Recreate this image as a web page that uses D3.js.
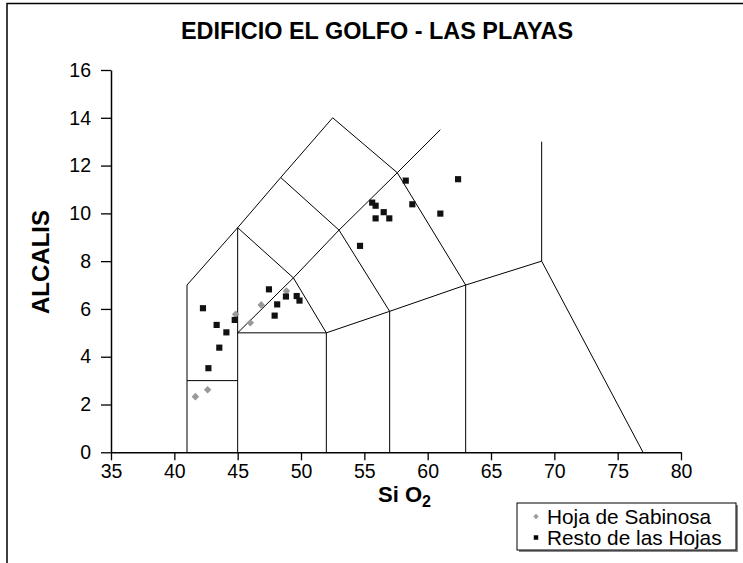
<!DOCTYPE html>
<html>
<head>
<meta charset="utf-8">
<script src="https://cdn.jsdelivr.net/npm/d3@7"></script>
<style>
  body { margin: 0; background: #fff; }
  svg { display: block; font-family: "Liberation Sans", Arial, sans-serif; }
</style>
</head>
<body>
<svg id="chart" width="743" height="563"></svg>
<script>
// Chart text
const title = "EDIFICIO EL GOLFO - LAS PLAYAS";
const yTitle = "ALCALIS";
const legendLabels = ["Hoja de Sabinosa", "Resto de las Hojas"];

// Axis ticks
const xTicks = [35, 40, 45, 50, 55, 60, 65, 70, 75, 80];
const yTicks = [0, 2, 4, 6, 8, 10, 12, 14, 16];

// Samples: SiO2 (wt%) and total alkalis Na2O+K2O (wt%)
const sabinosaSiO2 = [41.66, 42.63, 44.84, 46.00, 46.86, 48.85];
const sabinosaAlk  = [2.33, 2.62, 5.78, 5.42, 6.17, 6.75];

const restoSiO2 = [42.26, 42.69, 43.34, 43.55, 44.11, 44.77, 47.47, 47.92, 48.12, 48.81, 49.66, 49.88,
                   54.66, 55.62, 55.89, 56.53, 55.89, 56.97, 58.27, 58.79, 61.00, 62.40];
const restoAlk  = [6.03, 3.52, 5.33, 4.38, 5.02, 5.54, 6.82, 5.72, 6.19, 6.52, 6.54, 6.35,
                   8.64, 10.45, 10.32, 10.05, 9.79, 9.79, 11.37, 10.38, 9.99, 11.43];

// TAS classification field boundaries (Le Bas et al., 1986), [SiO2, alkalis]
const tasBoundaries = [
  [[41, 0], [41, 7], [45, 9.4], [48.4, 11.5], [52.5, 14], [57.6, 11.7], [61, 13.5]],
  [[41, 3], [45, 3]],
  [[45, 0], [45, 9.4]],
  [[45, 5], [52, 5], [57, 5.9], [63, 7], [69, 8], [77, 0]],
  [[52, 0], [52, 5]],
  [[57, 0], [57, 5.9]],
  [[63, 0], [63, 7]],
  [[69, 8], [69, 13]],
  [[45, 5], [49.4, 7.3], [52, 5]],
  [[45, 9.4], [49.4, 7.3], [53, 9.3], [57.6, 11.7], [63, 7]],
  [[48.4, 11.5], [53, 9.3], [57, 5.9]]
];

const svg = d3.select("#chart");

// Outer chart frame (top and left edges)
svg.append("path")
  .attr("d", "M7,563V3.5H743")
  .attr("fill", "none")
  .attr("stroke", "#000")
  .attr("stroke-width", 1.5);

const x = d3.scaleLinear().domain([35, 80]).range([111, 681]);
const y = d3.scaleLinear().domain([0, 16]).range([452.3, 70]);

// Title
svg.append("text")
  .attr("x", 377).attr("y", 39)
  .attr("text-anchor", "middle")
  .attr("font-size", 24).attr("font-weight", "bold")
  .attr("textLength", 392).attr("lengthAdjust", "spacingAndGlyphs")
  .text(title);

// Axes
const xAxis = svg.append("g")
  .attr("transform", `translate(0,${y(0)})`)
  .call(d3.axisBottom(x).tickValues(xTicks).tickSize(8).tickSizeOuter(0).tickPadding(4));
const yAxis = svg.append("g")
  .attr("transform", `translate(${x(35)},0)`)
  .call(d3.axisLeft(y).tickValues(yTicks).tickSize(10).tickSizeOuter(0).tickPadding(10));
[xAxis, yAxis].forEach(g => {
  g.attr("font-family", null).attr("font-size", null);
  g.selectAll("text").attr("font-size", 19.5).attr("fill", "#000");
  g.selectAll("line").attr("stroke", "#000").attr("stroke-width", 1.3);
  g.select(".domain").attr("stroke", "#000").attr("stroke-width", 1.5);
});

// TAS boundaries
const line = d3.line().x(d => x(d[0])).y(d => y(d[1]));
svg.append("g")
  .selectAll("path")
  .data(tasBoundaries)
  .join("path")
  .attr("d", line)
  .attr("fill", "none")
  .attr("stroke", "#000")
  .attr("stroke-width", 1);

// Sample markers
const diamond = d3.symbol().type(d3.symbolDiamond2).size(36);
const square = d3.symbol().type(d3.symbolSquare).size(38);

svg.append("g")
  .selectAll("path")
  .data(d3.zip(sabinosaSiO2, sabinosaAlk))
  .join("path")
  .attr("transform", d => `translate(${x(d[0])},${y(d[1])})`)
  .attr("d", diamond)
  .attr("fill", "#999");

svg.append("g")
  .selectAll("path")
  .data(d3.zip(restoSiO2, restoAlk))
  .join("path")
  .attr("transform", d => `translate(${x(d[0])},${y(d[1])})`)
  .attr("d", square)
  .attr("fill", "#111");

// Axis titles
svg.append("text")
  .attr("transform", `translate(49,262) rotate(-90)`)
  .attr("text-anchor", "middle")
  .attr("font-size", 24).attr("font-weight", "bold")
  .text(yTitle);

const xt = svg.append("text")
  .attr("x", 378).attr("y", 502)
  .attr("font-size", 22).attr("font-weight", "bold");
xt.append("tspan").text("Si O");
xt.append("tspan").attr("font-size", 16).attr("dy", 5).text("2");

// Legend
const lg = svg.append("g").attr("transform", "translate(517,503)");
lg.append("rect").attr("x", 2).attr("y", 2).attr("width", 219).attr("height", 47).attr("fill", "#888");
lg.append("rect").attr("x", 0).attr("y", 0).attr("width", 219).attr("height", 47)
  .attr("fill", "#fff").attr("stroke", "#000").attr("stroke-width", 1);
lg.append("path").attr("transform", "translate(19,13.5)")
  .attr("d", d3.symbol().type(d3.symbolDiamond2).size(18)).attr("fill", "#999");
lg.append("path").attr("transform", "translate(19,34.5)")
  .attr("d", d3.symbol().type(d3.symbolSquare).size(20)).attr("fill", "#000");
lg.selectAll("text.lab")
  .data(legendLabels)
  .join("text")
  .attr("class", "lab")
  .attr("x", 30)
  .attr("y", (d, i) => 20.5 + i * 21.5)
  .attr("font-size", 20.8)
  .text(d => d);
</script>
</body>
</html>
